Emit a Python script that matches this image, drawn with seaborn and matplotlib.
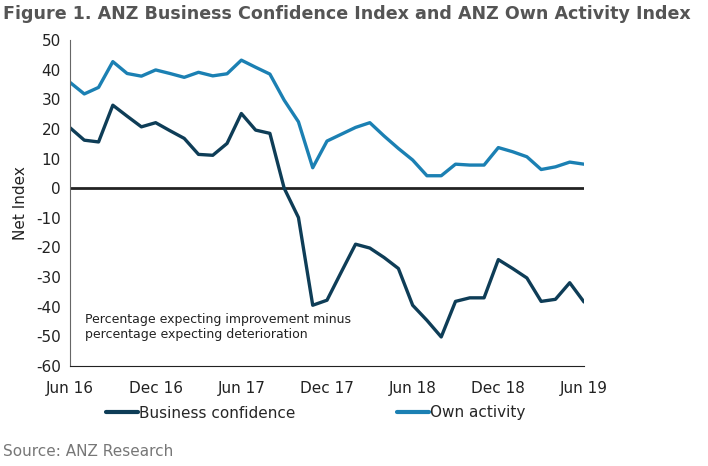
import pandas as pd
import seaborn as sns
import matplotlib.pyplot as plt

#  Monthly survey readings, Jun 2016 to Jun 2019
months = pd.date_range('2016-06-01', '2019-06-01', freq='MS')
business_confidence = [20.4, 16.2, 15.6, 28.0, 24.3, 20.7, 22.1, 19.4, 16.8, 11.4, 11.1, 15.1,
                       25.2, 19.6, 18.5, 0.0, -9.9, -39.5, -37.8, -28.3, -18.9, -20.2, -23.4, -27.1,
                       -39.5, -44.6, -50.2, -38.2, -37.0, -37.0, -24.1, -27.1, -30.3, -38.2, -37.5, -31.9,
                       -38.4]
own_activity = [35.7, 31.8, 34.0, 42.7, 38.7, 37.8, 39.9, 38.7, 37.4, 39.1, 37.9, 38.6,
                43.2, 40.8, 38.5, 29.7, 22.4, 6.9, 15.9, 18.2, 20.5, 22.1, 17.6, 13.4,
                9.5, 4.2, 4.2, 8.1, 7.8, 7.8, 13.7, 12.3, 10.6, 6.3, 7.2, 8.8,
                8.1]
tick_labels = ['Jun 16', 'Dec 16', 'Jun 17', 'Dec 17', 'Jun 18', 'Dec 18', 'Jun 19']

df = pd.DataFrame({'month': range(len(months)),
                   'Business confidence': business_confidence,
                   'Own activity': own_activity})
long = df.melt(id_vars='month', var_name='series', value_name='value')

sns.set_style('white')
plt.rcParams['font.family'] = ['DejaVu Sans']
plt.rcParams['axes.unicode_minus'] = False

fig = plt.figure(figsize=(7.08, 4.66), dpi=100)
ax = fig.add_axes([70 / 708, 100 / 466, 514 / 708, 326 / 466])

sns.lineplot(data=long, x='month', y='value', hue='series', ax=ax,
             palette={'Business confidence': '#0e3d57', 'Own activity': '#1b80b3'},
             linewidth=2.4)

ax.axhline(0, color='#222222', linewidth=2, zorder=1)

ax.set_xlim(0, 36)
ax.set_ylim(-60, 50)
ax.set_yticks(range(-60, 51, 10))
#  ticks every quarter, labels only on Jun / Dec
ax.set_xticks(range(0, 37, 3))
xlabels = []
for t in tick_labels:
    xlabels += [t, '']
ax.set_xticklabels(xlabels[:13])
ax.tick_params(axis='both', labelsize=11, colors='#222222', length=5, width=1)
ax.tick_params(axis='y', direction='inout', length=6)
ax.tick_params(axis='x', direction='out', pad=6)

for s in ['top', 'right']:
    ax.spines[s].set_visible(False)
ax.spines['left'].set_color('#666666')
ax.spines['bottom'].set_color('#222222')

ax.set_xlabel('')
ax.set_ylabel('Net Index', fontsize=11, color='#222222', labelpad=6)

ax.text(0.03, 0.085, 'Percentage expecting improvement minus\npercentage expecting deterioration',
        transform=ax.transAxes, fontsize=9, color='#222222', linespacing=1.25)

leg = ax.legend(loc='center left', bbox_to_anchor=(92 / 708, 53 / 466), bbox_transform=fig.transFigure,
                ncol=2, frameon=False, fontsize=11, handlelength=2.1, handletextpad=0.1,
                columnspacing=6.6)
for line in leg.get_lines():
    line.set_linewidth(3)

fig.text(3 / 708, 1 - 14 / 466, 'Figure 1. ANZ Business Confidence Index and ANZ Own Activity Index',
         fontsize=12.6, fontweight='bold', color='#555555', va='center')
fig.text(3 / 708, 1 - 452 / 466, 'Source: ANZ Research', fontsize=11, color='#777777', va='center')

fig.savefig('out.png', dpi=100)
